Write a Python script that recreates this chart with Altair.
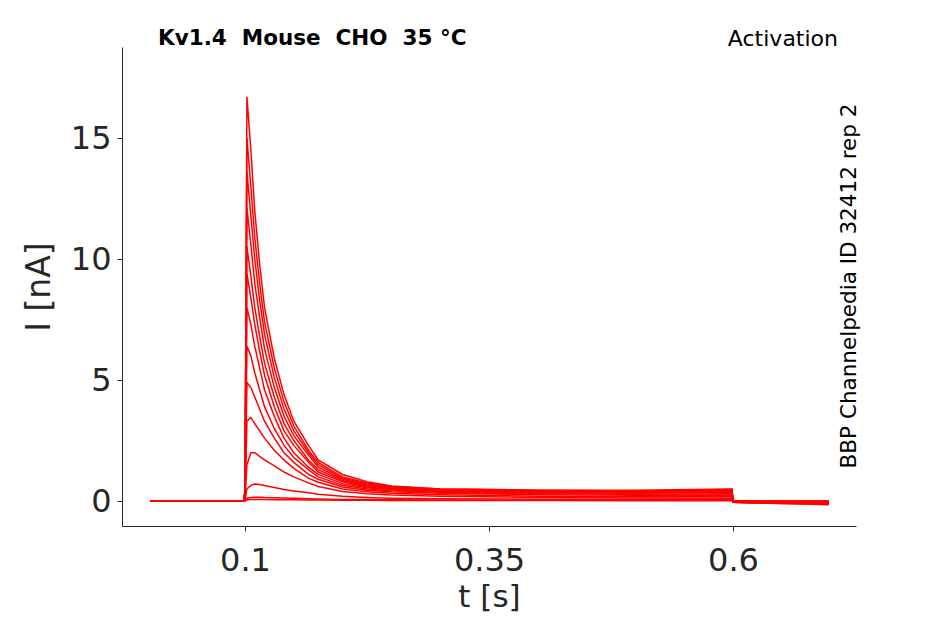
import altair as alt
import pandas as pd

# sample times (s) shared by all traces
times = [0.003, 0.099, 0.1, 0.102, 0.106, 0.11, 0.115, 0.12, 0.13, 0.14, 0.15, 0.165, 0.175, 0.2, 0.225,
         0.25, 0.3, 0.4, 0.5, 0.599, 0.6, 0.65, 0.698]

# current traces (nA), one list per voltage step
traces = [
    [0.0, 0.0, 0.5, 16.7, 14.5, 12.0, 9.8, 8.0, 5.9, 4.4, 3.3, 2.3, 1.7, 1.1, 0.8, 0.62, 0.5, 0.45, 0.45, 0.5, -0.05, -0.1, -0.15],
    [0.0, 0.0, 0.5, 15.0, 13.0, 10.9, 9.0, 7.4, 5.5, 4.1, 3.1, 2.1, 1.6, 1.0, 0.75, 0.6, 0.5, 0.45, 0.42, 0.48, -0.05, -0.1, -0.12],
    [0.0, 0.0, 0.5, 13.6, 11.8, 10.0, 8.3, 6.9, 5.1, 3.8, 2.9, 2.0, 1.5, 0.95, 0.7, 0.58, 0.48, 0.42, 0.4, 0.45, -0.05, -0.08, -0.1],
    [0.0, 0.0, 0.4, 12.1, 10.6, 9.0, 7.6, 6.3, 4.7, 3.5, 2.7, 1.9, 1.4, 0.9, 0.66, 0.55, 0.46, 0.4, 0.38, 0.42, -0.05, -0.08, -0.1],
    [0.0, 0.0, 0.4, 10.5, 9.3, 8.0, 6.8, 5.7, 4.3, 3.2, 2.5, 1.7, 1.3, 0.85, 0.62, 0.52, 0.44, 0.38, 0.36, 0.4, -0.05, -0.07, -0.08],
    [0.0, 0.0, 0.4, 9.4, 8.4, 7.3, 6.2, 5.2, 3.9, 2.9, 2.3, 1.6, 1.2, 0.8, 0.58, 0.5, 0.42, 0.36, 0.34, 0.38, -0.05, -0.06, -0.08],
    [0.0, 0.0, 0.3, 8.0, 7.3, 6.4, 5.5, 4.6, 3.5, 2.6, 2.0, 1.4, 1.1, 0.72, 0.55, 0.47, 0.4, 0.34, 0.32, 0.35, -0.04, -0.05, -0.06],
    [0.0, 0.0, 0.3, 6.4, 6.0, 5.3, 4.6, 3.9, 3.0, 2.3, 1.8, 1.3, 1.0, 0.65, 0.5, 0.43, 0.36, 0.3, 0.28, 0.3, -0.03, -0.04, -0.05],
    [0.0, 0.0, 0.2, 4.9, 4.7, 4.3, 3.8, 3.3, 2.6, 2.0, 1.6, 1.1, 0.9, 0.58, 0.45, 0.38, 0.32, 0.26, 0.24, 0.25, -0.02, -0.03, -0.04],
    [0.0, 0.0, 0.1, 3.3, 3.45, 3.2, 2.9, 2.6, 2.1, 1.7, 1.35, 0.95, 0.78, 0.5, 0.38, 0.32, 0.26, 0.2, 0.18, 0.18, -0.01, -0.02, -0.03],
    [0.0, 0.0, 0.05, 1.5, 2.0, 2.0, 1.85, 1.7, 1.45, 1.2, 1.0, 0.75, 0.6, 0.4, 0.3, 0.25, 0.2, 0.15, 0.13, 0.12, 0.0, -0.01, -0.02],
    [0.0, 0.0, 0.02, 0.5, 0.65, 0.7, 0.68, 0.64, 0.56, 0.48, 0.42, 0.34, 0.28, 0.2, 0.15, 0.12, 0.1, 0.08, 0.07, 0.06, 0.0, 0.0, -0.01],
    [0.0, 0.0, 0.01, 0.12, 0.15, 0.16, 0.16, 0.15, 0.14, 0.13, 0.12, 0.1, 0.09, 0.07, 0.06, 0.05, 0.04, 0.03, 0.03, 0.03, 0.0, 0.0, 0.0],
    [0.0, 0.0, 0.0, 0.05, 0.06, 0.06, 0.06, 0.06, 0.05, 0.05, 0.05, 0.04, 0.04, 0.03, 0.03, 0.02, 0.02, 0.02, 0.01, 0.01, 0.0, 0.0, 0.0],
]

rows = []
for k, tr in enumerate(traces):
    for t, i in zip(times, tr):
        rows.append({"trace": k, "t": t, "I": i})
df = pd.DataFrame(rows)
one = pd.DataFrame({"a": [0]})

lines = alt.Chart(df).mark_line(color="#ff0000", strokeWidth=1.5).encode(
    x=alt.X("t:Q", title="t [s]", scale=alt.Scale(domain=[-0.026, 0.726], nice=False, zero=False),
            axis=alt.Axis(values=[0.1, 0.35, 0.6], format=".2~f", grid=False, tickSize=5, labelPadding=14,
                          titleFontSize=31)),
    y=alt.Y("I:Q", title="I [nA]", scale=alt.Scale(domain=[-1.03, 18.76], nice=False),
            axis=alt.Axis(values=[0, 5, 10, 15], grid=False, tickSize=5)),
    detail="trace:N",
)

title = alt.Chart(one).mark_text(fontWeight="bold", fontSize=21.5, align="left", baseline="middle",
                                 font="DejaVu Sans").encode(
    x=alt.value(36), y=alt.value(-8), text=alt.value("Kv1.4\u00a0\u00a0Mouse\u00a0\u00a0CHO\u00a0\u00a035 °C"))
act = alt.Chart(one).mark_text(fontSize=22, align="right", baseline="middle", font="DejaVu Sans").encode(
    x=alt.value(716), y=alt.value(-8), text=alt.value("Activation"))
side = alt.Chart(one).mark_text(fontSize=21.5, angle=270, align="center", baseline="middle",
                                font="DejaVu Sans").encode(
    x=alt.value(728), y=alt.value(239), text=alt.value("BBP Channelpedia ID 32412 rep 2"))

chart = alt.layer(lines, title, act, side).properties(
    width=734, height=479, autosize="none",
    padding={"left": 114, "top": 39, "right": 80, "bottom": 100},
).configure_axis(
    labelFontSize=32, titleFontSize=33, labelFont="DejaVu Sans", titleFont="DejaVu Sans",
    labelColor="#262626", titleColor="#262626", domainColor="#262626", tickColor="#262626",
    titleFontWeight="normal", labelPadding=6,
).configure_axisX(titlePadding=6).configure_axisY(titlePadding=14).configure_view(strokeWidth=0)

chart.save("out.html", embed_options={"renderer": "svg", "actions": False})
